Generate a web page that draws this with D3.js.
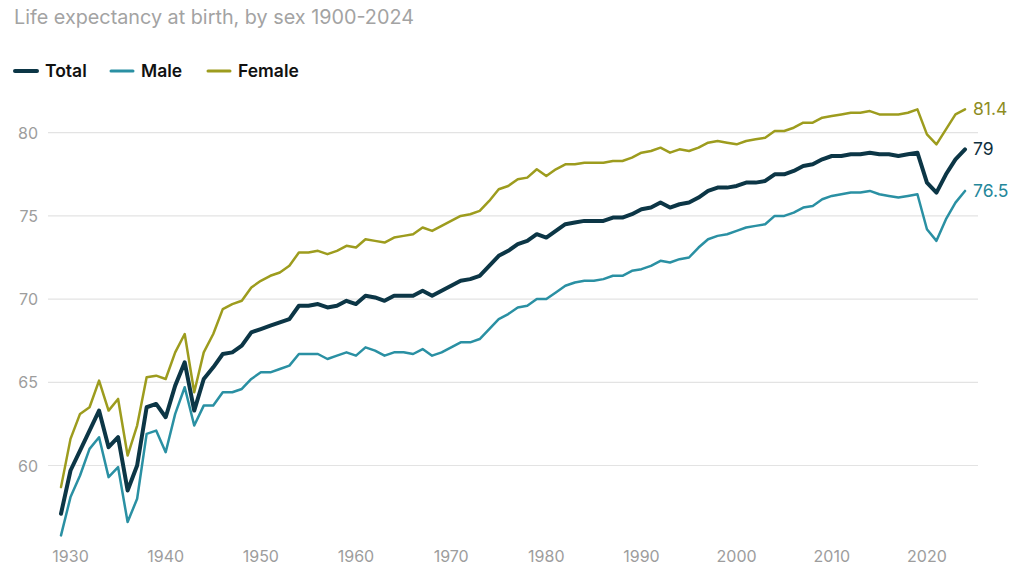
<!DOCTYPE html>
<html>
<head>
<meta charset="utf-8">
<script src="https://cdn.jsdelivr.net/npm/d3@7"></script>
<style>
  body { margin: 0; background: #fff; }
  svg { font-family: Inter, "Noto Sans", sans-serif; }
</style>
</head>
<body>
<div class="chart"></div>
<script>
// life expectancy at birth, 1929-2024
const years = d3.range(1929, 2025);

const total = [57.1, 59.7, 60.9, 62.1, 63.3, 61.1, 61.7, 58.5, 60.0, 63.5,
  63.7, 62.9, 64.8, 66.2, 63.3, 65.2, 65.9, 66.7, 66.8, 67.2,
  68.0, 68.2, 68.4, 68.6, 68.8, 69.6, 69.6, 69.7, 69.5, 69.6,
  69.9, 69.7, 70.2, 70.1, 69.9, 70.2, 70.2, 70.2, 70.5, 70.2,
  70.5, 70.8, 71.1, 71.2, 71.4, 72.0, 72.6, 72.9, 73.3, 73.5,
  73.9, 73.7, 74.1, 74.5, 74.6, 74.7, 74.7, 74.7, 74.9, 74.9,
  75.1, 75.4, 75.5, 75.8, 75.5, 75.7, 75.8, 76.1, 76.5, 76.7,
  76.7, 76.8, 77.0, 77.0, 77.1, 77.5, 77.5, 77.7, 78.0, 78.1,
  78.4, 78.6, 78.6, 78.7, 78.7, 78.8, 78.7, 78.7, 78.6, 78.7,
  78.8, 77.0, 76.4, 77.5, 78.4, 79.0];

const male = [55.8, 58.1, 59.4, 61.0, 61.7, 59.3, 59.9, 56.6, 58.0, 61.9,
  62.1, 60.8, 63.1, 64.7, 62.4, 63.6, 63.6, 64.4, 64.4, 64.6,
  65.2, 65.6, 65.6, 65.8, 66.0, 66.7, 66.7, 66.7, 66.4, 66.6,
  66.8, 66.6, 67.1, 66.9, 66.6, 66.8, 66.8, 66.7, 67.0, 66.6,
  66.8, 67.1, 67.4, 67.4, 67.6, 68.2, 68.8, 69.1, 69.5, 69.6,
  70.0, 70.0, 70.4, 70.8, 71.0, 71.1, 71.1, 71.2, 71.4, 71.4,
  71.7, 71.8, 72.0, 72.3, 72.2, 72.4, 72.5, 73.1, 73.6, 73.8,
  73.9, 74.1, 74.3, 74.4, 74.5, 75.0, 75.0, 75.2, 75.5, 75.6,
  76.0, 76.2, 76.3, 76.4, 76.4, 76.5, 76.3, 76.2, 76.1, 76.2,
  76.3, 74.2, 73.5, 74.8, 75.8, 76.5];

const female = [58.7, 61.6, 63.1, 63.5, 65.1, 63.3, 64.0, 60.6, 62.4, 65.3,
  65.4, 65.2, 66.8, 67.9, 64.4, 66.8, 67.9, 69.4, 69.7, 69.9,
  70.7, 71.1, 71.4, 71.6, 72.0, 72.8, 72.8, 72.9, 72.7, 72.9,
  73.2, 73.1, 73.6, 73.5, 73.4, 73.7, 73.8, 73.9, 74.3, 74.1,
  74.4, 74.7, 75.0, 75.1, 75.3, 75.9, 76.6, 76.8, 77.2, 77.3,
  77.8, 77.4, 77.8, 78.1, 78.1, 78.2, 78.2, 78.2, 78.3, 78.3,
  78.5, 78.8, 78.9, 79.1, 78.8, 79.0, 78.9, 79.1, 79.4, 79.5,
  79.4, 79.3, 79.5, 79.6, 79.7, 80.1, 80.1, 80.3, 80.6, 80.6,
  80.9, 81.0, 81.1, 81.2, 81.2, 81.3, 81.1, 81.1, 81.1, 81.2,
  81.4, 79.9, 79.3, 80.2, 81.1, 81.4];

const seriesNames = ["Total", "Male", "Female"];
const yTicks = [60, 65, 70, 75, 80];
const xTicks = [1930, 1940, 1950, 1960, 1970, 1980, 1990, 2000, 2010, 2020];

const series = [
  { name: "Total", values: total, color: "#0c3646", label: "#0f3140", width: 4 },
  { name: "Male", values: male, color: "#2a90a3", label: "#24879a", width: 2.5 },
  { name: "Female", values: female, color: "#9d9c1e", label: "#8e8d1f", width: 2.5 }
];

const width = 1024, height = 576;

const svg = d3.select(".chart")
  .append("svg")
  .attr("width", width)
  .attr("height", height);

const x = d3.scaleLinear().domain([1929, 2024]).range([61, 965]);
const y = d3.scaleLinear().domain([60, 80]).range([465.5, 132.7]);

// title
svg.append("text")
  .attr("x", 14)
  .attr("y", 24)
  .attr("font-size", 19.8)
  .attr("fill", "#a3a3a3")
  .text("Life expectancy at birth, by sex 1900-2024");

// legend
const legendX = [15, 111, 208];
const legend = svg.append("g");
series.forEach((s, i) => {
  const g = legend.append("g").attr("transform", `translate(${legendX[i]},71)`);
  g.append("line")
    .attr("x1", 0).attr("x2", 22)
    .attr("stroke", s.color)
    .attr("stroke-width", i === 0 ? 4 : 3)
    .attr("stroke-linecap", "round");
  g.append("text")
    .attr("x", 30)
    .attr("y", 6)
    .attr("font-size", 17.5)
    .attr("font-weight", 600)
    .attr("fill", "#111")
    .text(seriesNames[i]);
});

// y grid + labels
const yAxis = svg.append("g");
yAxis.selectAll("line")
  .data(yTicks)
  .join("line")
  .attr("x1", 48).attr("x2", 978)
  .attr("y1", d => y(d)).attr("y2", d => y(d))
  .attr("stroke", "#e3e3e3")
  .attr("stroke-width", 1.2);
yAxis.selectAll("text")
  .data(yTicks)
  .join("text")
  .attr("x", 38)
  .attr("y", d => y(d) + 6)
  .attr("text-anchor", "end")
  .attr("font-size", 16)
  .attr("fill", "#9d9d9d")
  .text(d => d);

// x labels
svg.append("g").selectAll("text")
  .data(xTicks)
  .join("text")
  .attr("x", d => x(d))
  .attr("y", 562)
  .attr("text-anchor", "middle")
  .attr("font-size", 16)
  .attr("fill", "#9d9d9d")
  .text(d => d);

const line = d3.line()
  .x((d, i) => x(years[i]))
  .y(d => y(d));

// draw female, male, then total on top
[series[2], series[1], series[0]].forEach(s => {
  svg.append("path")
    .datum(s.values)
    .attr("d", line)
    .attr("fill", "none")
    .attr("stroke", s.color)
    .attr("stroke-width", s.width)
    .attr("stroke-linejoin", "round")
    .attr("stroke-linecap", "round");
});

// end labels
series.forEach(s => {
  const last = s.values[s.values.length - 1];
  svg.append("text")
    .attr("x", x(2024) + 8)
    .attr("y", y(last) + 6)
    .attr("font-size", 17.5)
    .attr("fill", s.label)
    .text(last);
});
</script>
</body>
</html>
